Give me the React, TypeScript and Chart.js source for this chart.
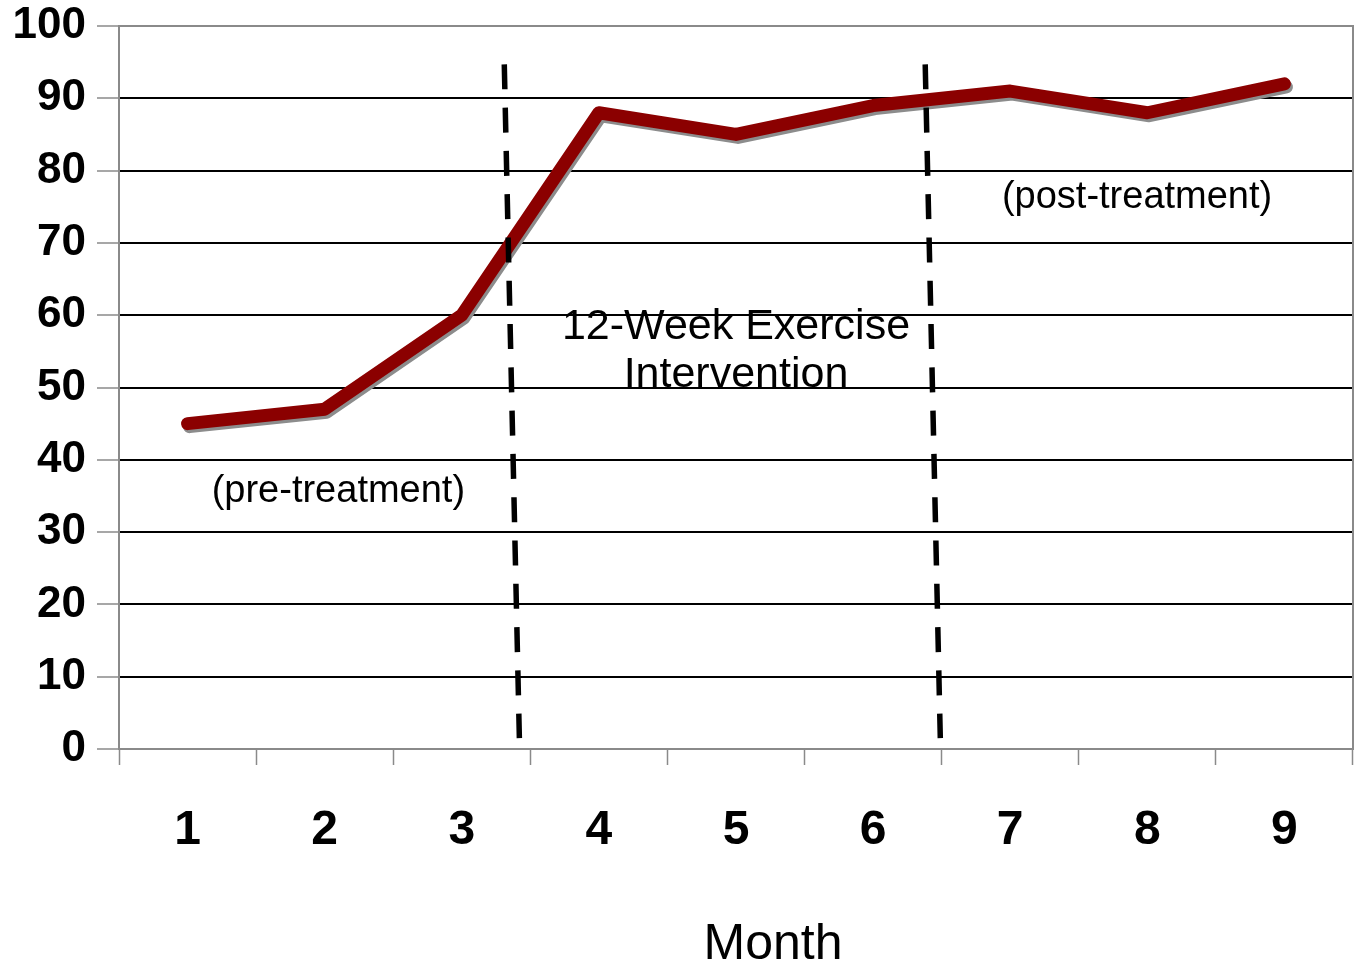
import React, { useEffect, useRef } from 'react';
import { Chart, registerables } from 'chart.js';

Chart.register(...registerables);

const FONT = '"Liberation Sans", Arial, Helvetica, sans-serif';

// Category labels (months) and series values
const months = ['1', '2', '3', '4', '5', '6', '7', '8', '9'];
const scores = [45, 47, 60, 88, 85, 89, 91, 88, 92];

// Y axis range / step
const yMin = 0;
const yMax = 100;
const yStep = 10;

// Phase boundaries (dashed lines), in month units on a continuous axis
const boundaryStart = [
  { x: 3.31, y: 94.7 },
  { x: 3.42, y: 1.5 },
];
const boundaryEnd = [
  { x: 6.38, y: 94.7 },
  { x: 6.49, y: 1.5 },
];

// Phase annotation texts
const phaseTexts = ['(pre-treatment)', '12-Week Exercise', 'Intervention', '(post-treatment)'];
const phaseTextX = [2.1, 5.0, 5.0, 7.925];
const phaseTextY = [34.2, 56.7, 50.1, 74.8];
const phaseTextSize = [38, 43, 43, 38];

const xTitle = 'Month';

export default function App() {
  const ref = useRef<HTMLCanvasElement | null>(null);

  useEffect(() => {
    document.body.style.margin = '0';
    const canvas = ref.current;
    if (!canvas) return;

    const shadowPlugin = {
      id: 'lineShadow',
      beforeDatasetDraw(chart: any, args: any) {
        if (args.index === 0) {
          const ctx = chart.ctx;
          ctx.save();
          ctx.shadowColor = 'rgba(140,140,140,1)';
          ctx.shadowOffsetX = 2;
          ctx.shadowOffsetY = 3;
          ctx.shadowBlur = 0;
        }
      },
      afterDatasetDraw(chart: any, args: any) {
        if (args.index === 0) chart.ctx.restore();
      },
    };

    const framePlugin = {
      id: 'frame',
      beforeDatasetsDraw(chart: any) {
        const { ctx, chartArea } = chart;
        ctx.save();
        ctx.strokeStyle = '#8a8a8a';
        ctx.lineWidth = 2;
        ctx.strokeRect(chartArea.left, chartArea.top, chartArea.right - chartArea.left, chartArea.bottom - chartArea.top);
        ctx.restore();
      },
    };

    const textPlugin = {
      id: 'phaseText',
      afterDatasetsDraw(chart: any) {
        const ctx = chart.ctx;
        const xs = chart.scales.x2;
        const ys = chart.scales.y;
        ctx.save();
        ctx.fillStyle = '#000';
        ctx.textAlign = 'center';
        ctx.textBaseline = 'alphabetic';
        phaseTexts.forEach((t, i) => {
          ctx.font = `${phaseTextSize[i]}px ${FONT}`;
          ctx.fillText(t, xs.getPixelForValue(phaseTextX[i]), ys.getPixelForValue(phaseTextY[i]));
        });
        // axis title
        ctx.font = `50px ${FONT}`;
        ctx.textBaseline = 'middle';
        ctx.fillText(xTitle, xs.getPixelForValue(5.27), chart.height - 24);
        ctx.restore();
      },
    };

    const chart = new Chart(canvas, {
      type: 'line',
      data: {
        labels: months,
        datasets: [
          {
            label: 'Score',
            data: scores,
            borderColor: '#8B0000',
            backgroundColor: '#8B0000',
            borderWidth: 13,
            pointRadius: 0,
            pointHoverRadius: 0,
            tension: 0,
            borderCapStyle: 'round',
            borderJoinStyle: 'round',
            order: 2,
            clip: false as any,
          },
          {
            label: 'start',
            data: boundaryStart,
            xAxisID: 'x2',
            borderColor: '#000',
            borderWidth: 5.5,
            borderDash: [25, 18.3],
            pointRadius: 0,
            tension: 0,
            order: 1,
          } as any,
          {
            label: 'end',
            data: boundaryEnd,
            xAxisID: 'x2',
            borderColor: '#000',
            borderWidth: 5.5,
            borderDash: [25, 18.3],
            pointRadius: 0,
            tension: 0,
            order: 1,
          } as any,
        ],
      },
      options: {
        animation: false,
        responsive: false,
        maintainAspectRatio: false,
        layout: { autoPadding: false, padding: { top: 26, right: 9, left: 0, bottom: 0 } },
        plugins: {
          legend: { display: false },
          tooltip: { enabled: false },
        },
        scales: {
          x: {
            type: 'category',
            offset: true,
            grid: {
              offset: true,
              drawOnChartArea: false,
              drawTicks: true,
              tickLength: 16,
              tickColor: '#8a8a8a',
              tickWidth: 1.5,
            },
            border: { display: true, color: '#8a8a8a', width: 2 },
            ticks: {
              color: '#000',
              font: { family: FONT, size: 48, weight: 'bold' },
              padding: 37,
              maxRotation: 0,
            },
            afterFit(scale: any) {
              scale.height = 220;
              scale.paddingLeft = 0;
              scale.paddingRight = 0;
            },
          },
          x2: {
            type: 'linear',
            display: false,
            min: 0.5,
            max: 9.5,
          },
          y: {
            min: yMin,
            max: yMax,
            ticks: {
              stepSize: yStep,
              color: '#000',
              font: { family: FONT, size: 44, weight: 'bold' },
              padding: 11,
            },
            grid: {
              color: '#000',
              lineWidth: 2,
              tickLength: 22,
              tickColor: '#8a8a8a',
              tickWidth: 1.5,
            },
            border: { display: true, color: '#8a8a8a', width: 2 },
            afterFit(scale: any) {
              scale.width = 119;
              scale.paddingTop = 0;
              scale.paddingBottom = 0;
            },
          },
        },
      } as any,
      plugins: [shadowPlugin, framePlugin, textPlugin],
    });

    return () => chart.destroy();
  }, []);

  return (
    <div style={{ width: 1362, height: 969, background: '#fff' }}>
      <canvas ref={ref} width={1362} height={969} style={{ display: 'block', width: 1362, height: 969 }} />
    </div>
  );
}
